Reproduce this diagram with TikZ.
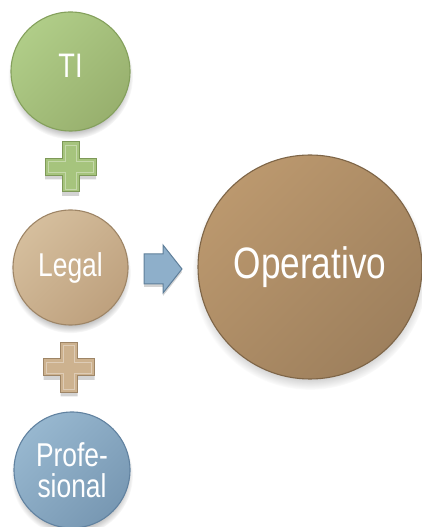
\documentclass[tikz,border=0pt]{standalone}
\usepackage{fontspec}
\newfontfamily\diagfont[FakeStretch=0.8]{Liberation Sans}
\usetikzlibrary{shadows}

% fills: light (upper left), dark (lower right), edge
\definecolor{tiLight}{HTML}{B0CD88}
\definecolor{tiDark}{HTML}{98B06E}
\definecolor{tiEdge}{HTML}{84A05C}
\definecolor{legalLight}{HTML}{D5BE9D}
\definecolor{legalDark}{HTML}{BEA17E}
\definecolor{legalEdge}{HTML}{9E8566}
\definecolor{opLight}{HTML}{BB986E}
\definecolor{opDark}{HTML}{9E805D}
\definecolor{opEdge}{HTML}{7E6547}
\definecolor{profLight}{HTML}{97B7CF}
\definecolor{profDark}{HTML}{7898B3}
\definecolor{profEdge}{HTML}{6182A0}
\definecolor{plusGreenFill}{HTML}{A6C47D}
\definecolor{plusGreenEdge}{HTML}{7E9958}
\definecolor{plusTanFill}{HTML}{CDB28F}
\definecolor{plusTanEdge}{HTML}{9E8566}
\definecolor{arrowFill}{HTML}{8EAFCA}
\definecolor{arrowEdge}{HTML}{5F7F9A}

\tikzset{
  ball/.style={circle, draw=#1Edge, line width=1.1pt,
    left color=#1Light, right color=#1Dark, shading angle=45,
    text=white, align=center, inner sep=0pt,
    font=\diagfont\fontsize{33}{31}\selectfont,
    circular drop shadow={shadow xshift=0pt, shadow yshift=-5pt,
      shadow scale=1.05, opacity=.55}},
  plussign/.pic={
    \path[fill=#1Fill, draw=#1Edge, line width=1pt,
      drop shadow={shadow xshift=0pt, shadow yshift=-4pt, opacity=.35}]
      (-8.5,25) -- (8.5,25) -- (8.5,8.5) -- (25.5,8.5) -- (25.5,-8.5)
      -- (8.5,-8.5) -- (8.5,-25) -- (-8.5,-25) -- (-8.5,-8.5)
      -- (-25.5,-8.5) -- (-25.5,8.5) -- (-8.5,8.5) -- cycle;
    \draw[white, opacity=.35, line width=.8pt]
      (-5.5,22) -- (5.5,22) -- (5.5,5.5) -- (22.5,5.5) -- (22.5,-5.5)
      -- (5.5,-5.5) -- (5.5,-22) -- (-5.5,-22) -- (-5.5,-5.5)
      -- (-22.5,-5.5) -- (-22.5,5.5) -- (-5.5,5.5) -- cycle;
  },
  blockarrow/.style={draw=arrowEdge, fill=arrowFill, line width=1pt,
    line join=miter,
    drop shadow={shadow xshift=0pt, shadow yshift=-3pt, opacity=.35}},
}

\begin{document}
\begin{tikzpicture}[x=1pt, y=1pt]
  \useasboundingbox (0,0) rectangle (422,527);

  \node[ball=ti, minimum size=119pt, text depth=12pt,
        font=\diagfont\fontsize{34}{34}\selectfont] (ti) at (70.5,455.5) {TI};
  \pic (plusA) at (70.5,360) {plussign=plusGreen};
  \node[ball=legal, minimum size=115pt] (legal) at (70.5,259.5) {Legal};
  \pic (plusB) at (69,159.5) {plussign=plusTan};
  \node[ball=prof, minimum size=116pt] (prof) at (72,57) {Profe-\\sional};

  \node[ball=op, minimum size=224pt,
        font=\diagfont\fontsize{44}{44}\selectfont] (op) at (310,260) {Operativo};

  % block arrow between the Legal disc and the Operativo disc
  \coordinate (arrTail) at (144,258);
  \coordinate (arrTip) at (182,258);
  \path[blockarrow]
    ([yshift=15pt]arrTail) -- ++(19,0) -- ++(0,9) -- (arrTip)
    -- ([yshift=-24pt,xshift=-19pt]arrTip) -- ++(0,9)
    -- ([yshift=-15pt]arrTail) -- cycle;
\end{tikzpicture}
\end{document}
